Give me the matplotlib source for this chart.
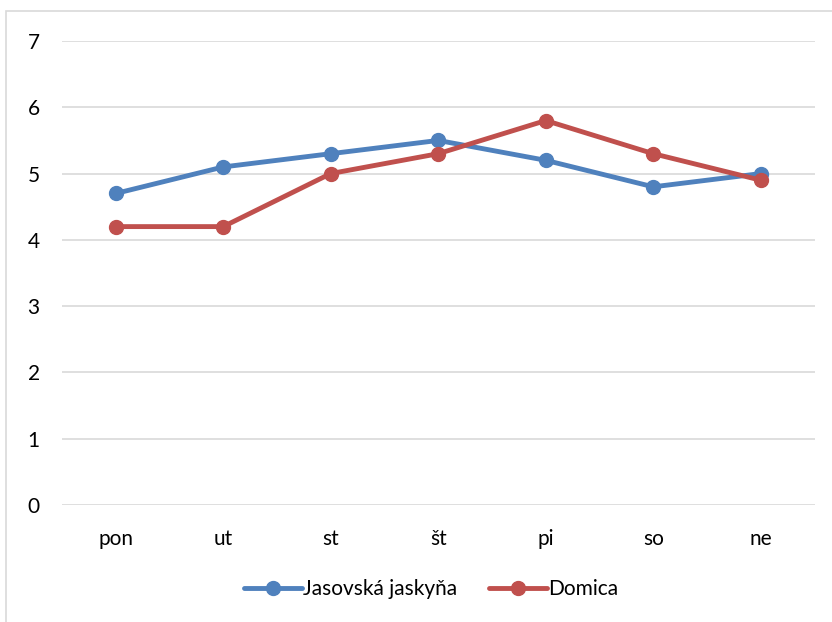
import matplotlib
matplotlib.use("Agg")
import matplotlib.pyplot as plt
from matplotlib.patches import Rectangle

categories = ["pon", "ut", "st", "št", "pi", "so", "ne"]
jasovska = [4.7, 5.1, 5.3, 5.5, 5.2, 4.8, 5.0]
domica = [4.2, 4.2, 5.0, 5.3, 5.8, 5.3, 4.9]
series_names = ["Jasovská jaskyňa", "Domica"]

plt.rcParams['font.family'] = ['Lato', 'DejaVu Sans']

W, H = 832, 622
fig = plt.figure(figsize=(W/100, H/100), dpi=100)
fig.patch.set_facecolor('white')

# chart border (partly cut off at right/bottom)
fig.add_artist(Rectangle((6/W, -0.1), 1.2, 1 - 11/H + 0.1, transform=fig.transFigure,
                         fill=False, edgecolor='#d9d9d9', linewidth=1.2))

ax = fig.add_axes([62/W, 117/H, 752.5/W, 464/H])
x = list(range(len(categories)))
ax.plot(x, jasovska, color='#4F81BD', lw=3.5, marker='o', ms=10, label=series_names[0],
        solid_capstyle='round')
ax.plot(x, domica, color='#C0504D', lw=3.5, marker='o', ms=10, label=series_names[1],
        solid_capstyle='round')

ax.set_xlim(-0.5, len(categories) - 0.5)
ax.set_ylim(0, 7)
ax.set_yticks(range(0, 8))
ax.set_xticks(x)
ax.set_xticklabels(categories)
ax.grid(axis='y', color='#d9d9d9', lw=1.2)
ax.set_axisbelow(True)
for s in ax.spines.values():
    s.set_visible(False)
ax.tick_params(axis='both', length=0, labelsize=15, colors='black')
ax.tick_params(axis='y', pad=16)
ax.tick_params(axis='x', pad=17)

leg = fig.legend(loc='center', bbox_to_anchor=(431/W, 1 - 589/H), ncol=2, frameon=False,
                 fontsize=15, handlelength=2.8, handletextpad=0.05, columnspacing=1.5)

fig.savefig('out.png', dpi=100)
